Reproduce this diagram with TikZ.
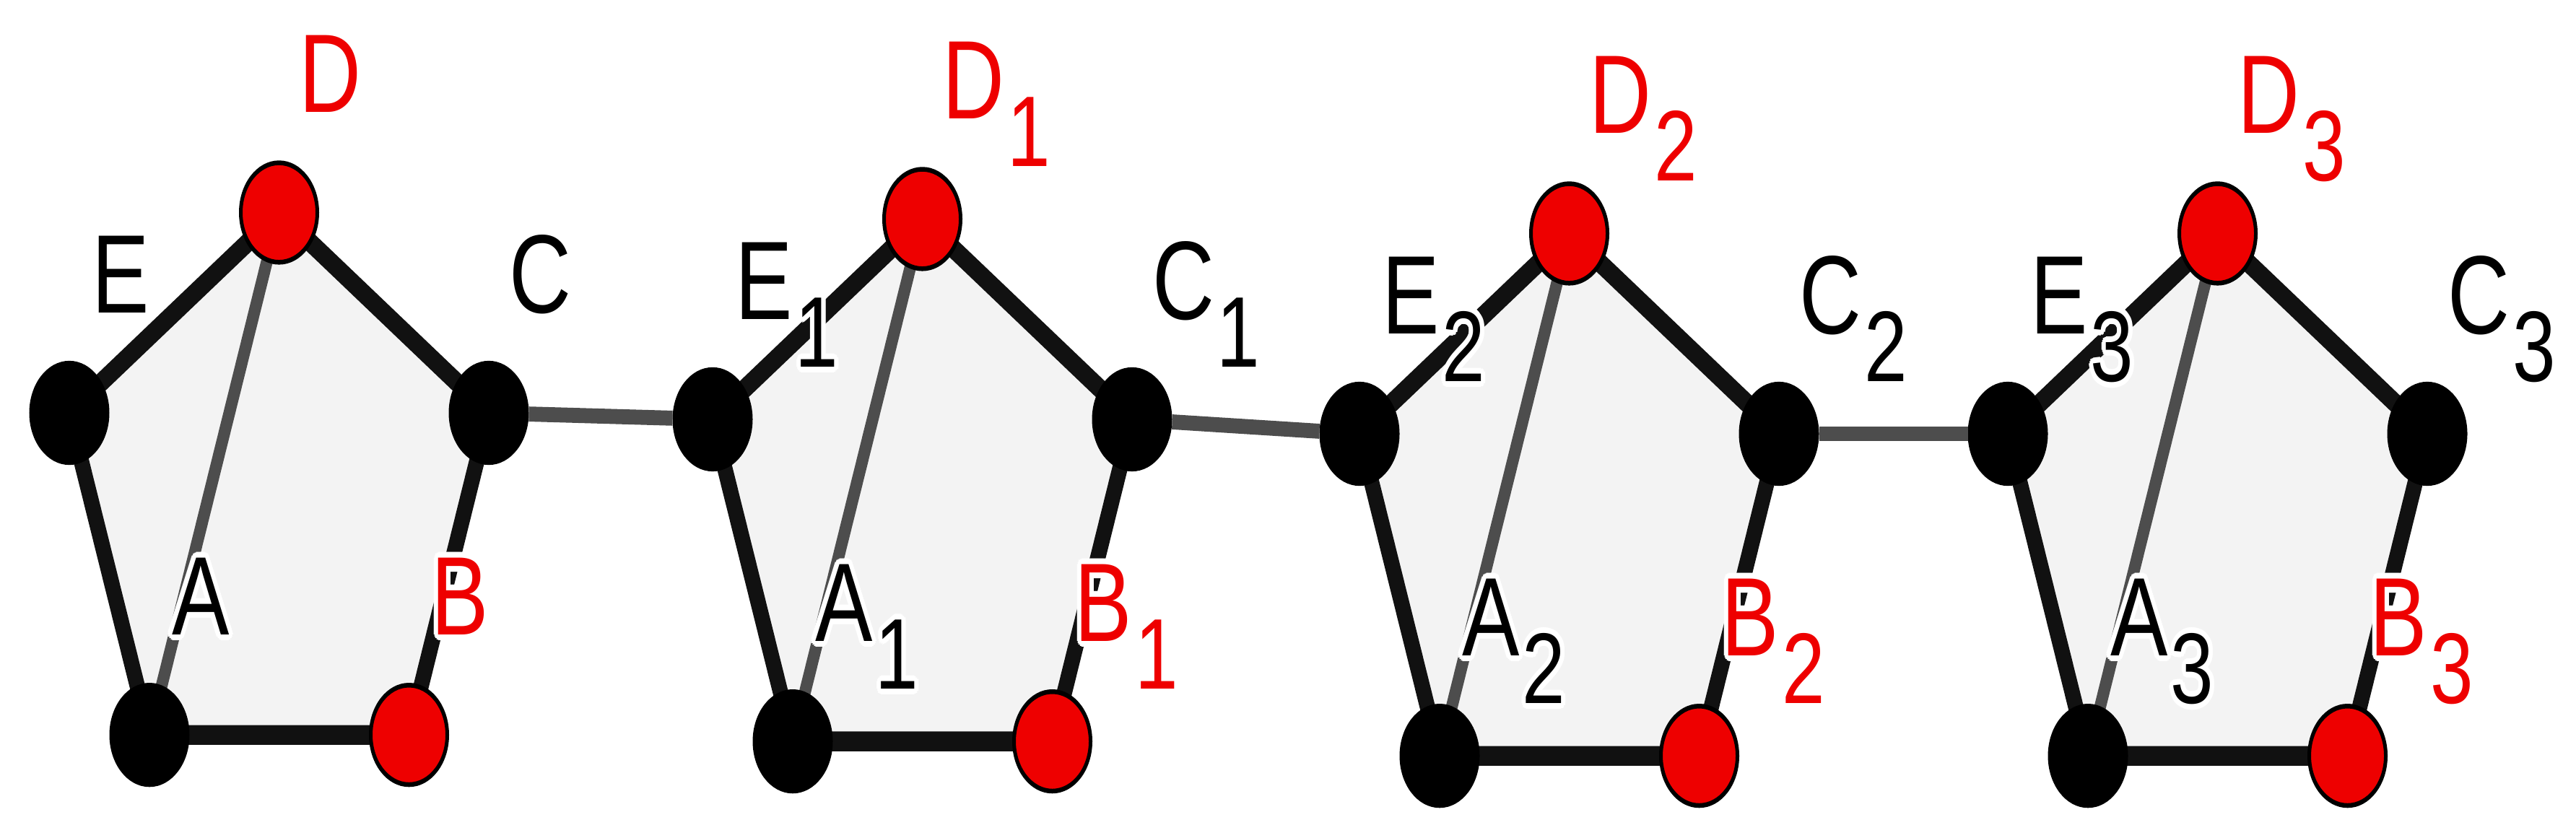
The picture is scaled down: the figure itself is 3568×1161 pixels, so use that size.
\documentclass[tikz,border=0pt]{standalone}
\usepackage{fontspec}
\setmainfont{Liberation Sans}
\definecolor{nred}{HTML}{EE0000}
\definecolor{edgeblack}{HTML}{111111}
\definecolor{linkgray}{HTML}{4D4D4D}
\definecolor{fillgray}{HTML}{F3F3F3}
\newcommand\labtext[2]{#1\rlap{\smash{\hspace{4pt}\raisebox{-51pt}{\fontsize{107pt}{107pt}\selectfont #2}}}}
\newcommand\mylab[2]{%
 \foreach \ang in {0,22.5,...,337.5}{%
  \pgfmathsetlengthmacro\hx{6pt*cos(\ang)}%
  \pgfmathsetlengthmacro\hy{6pt*sin(\ang)}%
  \rlap{\hspace*{\hx}\raisebox{\hy}{\textcolor{white}{\labtext{#1}{#2}}}}}%
 \labtext{#1}{#2}}
\newcommand\pent[4]{%
\begin{scope}[shift={(#2,#3)}]
 \coordinate (E#1) at (0,0);
 \coordinate (D#1) at (290.5,-213.5);
 \coordinate (C#1) at (581,0);
 \coordinate (A#1) at (111,343.2);
 \coordinate (B#1) at (470.5,343.2);
 \fill[fillgray] (E#1) -- (D#1) -- (C#1) -- (B#1) -- (A#1) -- cycle;
 \draw[blackedge] (E#1) -- (D#1) -- (C#1) -- (B#1) -- (A#1) -- cycle;
 \draw[graylink] (D#1) -- (A#1);
 \node[blknode] (vE#1) at (E#1) {};
 \node[rednode] (vD#1) at (D#1) {};
 \node[blknode] (vC#1) at (C#1) {};
 \node[blknode] (vA#1) at (A#1) {};
 \node[rednode] (vB#1) at (B#1) {};
 \node[lab] (lE#1) at (71,-147.7) {\mylab{E}{#4}};
 \node[lab,text=nred] (lD#1) at (361.5,-361.2) {\mylab{D}{#4}};
 \node[lab] (lC#1) at (652,-147.7) {\mylab{C}{#4}};
 \node[lab] (lA#1) at (182,195.5) {\mylab{A}{#4}};
 \node[lab,text=nred] (lB#1) at (541.5,195.5) {\mylab{B}{#4}};
\end{scope}}
\begin{document}
\begin{tikzpicture}[x=1pt,y=-1pt,
  blackedge/.style={draw=edgeblack,line width=21pt,line join=round},
  graylink/.style={draw=linkgray,line width=16pt},
  vnode/.style={circle,draw=black,line width=5pt,minimum size=106pt,inner sep=0pt},
  blknode/.style={vnode,fill=black},
  rednode/.style={vnode,fill=nred},
  lab/.style={inner sep=0pt,text=black,font=\fontsize{119pt}{119pt}\selectfont}]
\useasboundingbox (0,0) rectangle (3568,1161);
\begin{scope}[transform canvas={yscale=1.3}]
 \pent{}{96}{440}{}
 \pent{1}{987}{446.9}{1}
 \pent{2}{1883}{462.3}{2}
 \pent{3}{2781}{462.3}{3}
 \draw[graylink] (vC) -- (vE1);
 \draw[graylink] (vC1) -- (vE2);
 \draw[graylink] (vC2) -- (vE3);
\end{scope}
\end{tikzpicture}
\end{document}
